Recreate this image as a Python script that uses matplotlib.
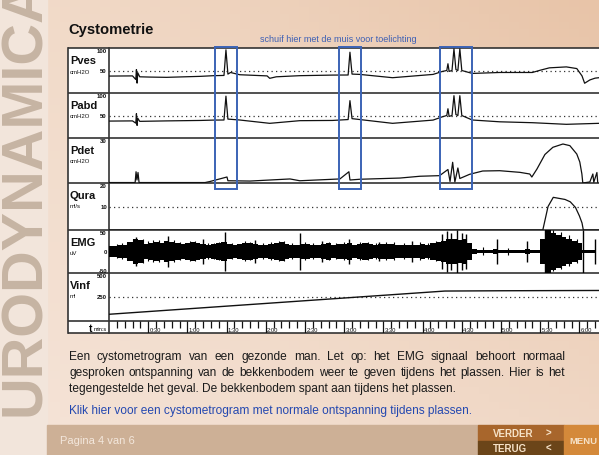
import numpy as np
import matplotlib
matplotlib.use("Agg")
import matplotlib.pyplot as plt
from matplotlib.patches import Rectangle
import matplotlib.transforms as mtransforms

W, H = 599, 456

# ---- traces (time in seconds) ----
pves_t = [0, 18, 20.5, 21, 21.5, 22, 23.5, 31, 44, 70, 80, 88, 89.5, 91, 93, 100, 121, 123, 128,
          146, 171, 183, 184.4, 186, 192, 217, 248, 255, 258.5, 259.4, 260.3, 262.5, 264, 265.5,
          267, 268.5, 270, 278, 299, 324, 330, 337, 350, 358, 362, 364, 368, 372, 375]
pves_v = [37.6, 38, 30, 52, 22, 45, 36, 35.4, 34.8, 37, 38.5, 39, 96, 42, 45.6, 40.6, 38, 32.6, 36,
          38.5, 39.8, 40, 90.6, 42, 41.3, 34, 41.3, 47.8, 50, 65, 48, 50, 98, 52,
          50, 98, 50, 43.5, 45.6, 45.6, 50.6, 55.9, 58, 54.3, 38, 21.7, 29, 33, 34]

pabd_t = [0, 18, 20.5, 21, 21.5, 22, 23.5, 44, 70, 80, 88, 89.5, 91, 100, 123, 146, 171, 183,
          184.4, 186, 192, 217, 248, 255, 258.5, 259.4, 260.3, 262.5, 264, 265.5, 267, 268.5,
          270, 278, 299, 324, 350, 375]
pabd_v = [37.6, 38, 33, 54, 28, 44, 37, 38, 39, 39.8, 40, 93, 42, 40, 32.6, 38.5, 39, 41,
          83, 43, 41, 32.6, 39.8, 47, 50, 65, 48, 50, 94, 52, 50, 94,
          50, 40, 36, 34, 30.4, 32.6]

pdet_t = [0, 20, 20.7, 21.4, 22.2, 23, 73.5, 77.3, 90.3, 91, 108, 138.5, 146, 176.7, 183.6, 184.4,
          192, 222.6, 238, 253, 259.4, 261, 263, 264.7, 267, 268.5, 276, 286, 299, 314.5, 322,
          323.6, 327.5, 333.6, 339.7, 347.4, 352.7, 358, 360.3, 361.9, 362.6, 368, 370.3, 371,
          373.4, 374]
pdet_v = [0.3, 0.3, 7.5, 2, 7, 0.3, 0.3, 1, 4, 1.5, 1.3, 2.7, 1.5, 2.7, 7.5, 2,
          2.5, 3.3, 4.5, 4.9, 9, 1, 13.8, 0.7, 10, 3, 5.8, 8, 8.2, 7.1, 6,
          4, 9.3, 19, 23.8, 26, 24.9, 19.3, 14, 6, 0, 0.7, 6, 0.5,
          7, 0.5]

qura_t = [0, 332, 336, 340, 344, 349, 353, 357, 360, 362, 363, 375]
qura_v = [0, 0, 10, 13.9, 13.5, 13, 12, 9.6, 6, 3, 0, 0]

# EMG envelope (uV), one value per 4 s window
emg_t = list(range(0, 376, 4))
emg_amp = [12, 13, 14, 16, 22, 30, 27, 18, 20, 23, 20, 25, 21, 19, 17, 20, 23, 20, 18, 16,
           17, 19, 21, 17, 15, 18, 20, 19, 17, 16, 16, 18, 20, 21, 18, 16, 15, 17, 17, 15,
           16, 17, 19, 16, 18, 17, 20, 16, 17, 19, 17, 16, 18, 17, 17, 16, 15, 16, 15, 16,
           17, 16, 19, 21, 25, 28, 30, 27, 28, 20, 5, 4, 4, 4, 5, 4, 4, 4, 4, 4,
           5, 4, 4, 30, 50, 44, 38, 33, 29, 25, 20, 4, 4, 4]
# EMG large isolated spikes
spike_t = [21, 45, 72, 89, 112, 146, 163, 184, 207, 232, 255, 259, 262, 266, 270, 273,
           297, 320, 333.6, 362.6, 372]
spike_a = [34, 36, 28, 45, 26, 42, 24, 30, 22, 24, 40, 48, 44, 50, 42, 40,
           28, 25, 50, 50, 28]
# EMG small spikes that make the band ragged
jag_t = [6, 10, 14, 18, 26, 30, 34, 38, 42, 50, 54, 58, 62, 66, 76, 80, 84, 94, 98, 104,
         108, 118, 124, 130, 134, 140, 150, 156, 168, 174, 180, 192, 198, 204, 212, 218,
         226, 238, 244, 250, 286, 305, 340, 346, 352, 358]
jag_a = [18, 19, 20, 28, 30, 24, 26, 27, 25, 26, 22, 20, 24, 25, 20, 20, 22, 20, 18, 24,
         22, 20, 22, 25, 24, 19, 21, 19, 23, 20, 22, 21, 23, 20, 22, 21,
         20, 21, 20, 24, 10, 8, 50, 46, 38, 30]

vinf_t = [0, 257, 300, 375]
vinf_v = [70, 312, 315, 318]

box_t0 = [81, 176, 253]
box_t1 = [98, 193, 278]

time_labels = ["0:30", "1:00", "1:30", "2:00", "2:30", "3:00", "3:30",
               "4:00", "4:30", "5:00", "5:30", "6:00"]

line1 = "Een cystometrogram van een gezonde man. Let op: het EMG signaal behoort normaal"
line2 = "gesproken ontspanning van de bekkenbodem weer te geven tijdens het plassen. Hier is het"
line3 = "tegengestelde het geval. De bekkenbodem spant aan tijdens het plassen."
link = "Klik hier voor een cystometrogram met normale ontspanning tijdens plassen."

plt.rcParams['font.family'] = ['Liberation Sans', 'DejaVu Sans']

fig = plt.figure(figsize=(W / 100, H / 100), dpi=100)

# background axes in pixel coordinates
bg = fig.add_axes([0, 0, 1, 1])
bg.set_xlim(0, W)
bg.set_ylim(H, 0)
bg.set_axis_off()

c_tl = np.array([242, 220, 203]) / 255
c_tr = np.array([232, 196, 168]) / 255
c_bl = np.array([245, 228, 216]) / 255
c_br = np.array([240, 216, 198]) / 255
u = np.linspace(0, 1, 60)[None, :, None]
v = np.linspace(0, 1, 60)[:, None, None]
img = (1 - v) * ((1 - u) * c_tl + u * c_tr) + v * ((1 - u) * c_bl + u * c_br)
bg.imshow(img, extent=[0, W, H, 0], aspect='auto', zorder=0)

# left strip with the vertical word
bg.add_patch(Rectangle((0, 0), 47, H, color='#f2e5db', zorder=1))
bg.text(25, 416, "URODYNAMICA", rotation=90, ha='center', va='bottom',
        fontsize=41.5, fontweight='bold', color='#c6b4a3', zorder=2)

# title and hint
bg.text(68, 30, "Cystometrie", fontsize=10.6, fontweight='bold', color='#111111',
        va='center', ha='left', zorder=3)
bg.text(338, 40, "schuif hier met de muis voor toelichting", fontsize=6.5,
        color='#3c5fb4', va='center', ha='center', zorder=3)

# chart box
bg.add_patch(Rectangle((68, 49), W - 68 + 5, 334 - 49, facecolor='white',
                       edgecolor='none', zorder=1))
border = '#333333'
for yb in [49, 94, 139, 184, 231, 274, 322, 334]:
    bg.plot([68, W + 2], [yb, yb], color=border, lw=1.2, zorder=5, solid_capstyle='butt')
for xb in [68, 109]:
    bg.plot([xb, xb], [49, 334], color=border, lw=1.2, zorder=5)

rows = [
    ("Pves", "cmH2O", 49, 94, (0, 100), [(100, "100", 'top'), (50, "50", 'center')], 50),
    ("Pabd", "cmH2O", 94, 139, (0, 100), [(100, "100", 'top'), (50, "50", 'center')], 50),
    ("Pdet", "cmH2O", 139, 184, (0, 30), [(30, "30", 'top')], None),
    ("Qura", "ml/s", 184, 231, (0, 20), [(20, "20", 'top'), (10, "10", 'center')], 10),
    ("EMG", "uV", 231, 274, (-50, 50), [(50, "50", 'top'), (0, "0", 'center'),
                                         (-50, "-50", 'bottom')], None),
    ("Vinf", "ml", 274, 322, (0, 500), [(500, "500", 'top'), (250, "250", 'center')], 250),
]

axes = {}
for name, unit, top, bot, lims, scale, dotted in rows:
    ax = fig.add_axes([109 / W, 1 - bot / H, (W - 109) / W, (bot - top) / H])
    ax.set_xlim(0, 375)
    ax.set_ylim(*lims)
    ax.set_axis_off()
    ax.patch.set_alpha(0)
    axes[name] = ax
    bg.text(70, top + 12, name, fontsize=8, fontweight='bold', color='#111111',
            va='center', ha='left', zorder=6)
    bg.text(70, top + 23, unit, fontsize=4.3, color='#111111', va='center', ha='left', zorder=6)
    blend = mtransforms.blended_transform_factory(bg.transData, ax.transData)
    for val, lab, va in scale:
        bg.text(107, val, lab, fontsize=4.3, fontweight='bold', color='#111111',
                ha='right', va=va, transform=blend, zorder=6)
    if dotted is not None:
        ax.axhline(dotted, color='#333333', lw=0.9, linestyle=(0, (1, 2.6)))

axes["Pves"].plot(pves_t, pves_v, color='#111111', lw=0.9)
axes["Pabd"].plot(pabd_t, pabd_v, color='#111111', lw=0.9)
axes["Pdet"].plot(pdet_t, pdet_v, color='#111111', lw=0.9)
axes["Qura"].plot(qura_t, qura_v, color='#111111', lw=0.9)
emg_amp = np.array(emg_amp)
axes["EMG"].fill_between(emg_t, -emg_amp, emg_amp, step='mid', color='black', lw=0)
axes["EMG"].vlines(spike_t, -np.array(spike_a), spike_a, color='black', lw=1.0)
axes["EMG"].vlines(jag_t, -np.array(jag_a) * 0.9, jag_a, color='black', lw=0.8)
axes["Vinf"].plot(vinf_t, vinf_v, color='#111111', lw=1.0)

# time row
ax_t = fig.add_axes([109 / W, 1 - 334 / H, (W - 109) / W, 12 / H])
ax_t.set_xlim(0, 375)
ax_t.set_ylim(0, 1)
ax_t.set_axis_off()
ax_t.patch.set_alpha(0)
minor = [s for s in range(6, 376, 6) if s % 30]
major = list(range(30, 361, 30))
ax_t.vlines(minor, 0.4, 1, color='#111111', lw=0.9)
ax_t.vlines(major, 0, 1, color='#111111', lw=0.9)
for s, lab in zip(major, time_labels):
    ax_t.text(s + 1, 0.05, lab, fontsize=4.2, ha='left', va='bottom', color='#111111')
bg.text(92, 329, "t", fontsize=7.5, fontweight='bold', ha='right', va='center', zorder=6)
bg.text(94, 330, "min:s", fontsize=4, ha='left', va='center', zorder=6)

# blue hint boxes
blend_box = mtransforms.blended_transform_factory(axes["Pves"].transData, bg.transData)
for t0, t1 in zip(box_t0, box_t1):
    fig.add_artist(Rectangle((t0, 48), t1 - t0, 190 - 48, fill=False, edgecolor='#3b63b6',
                             lw=1.4, transform=blend_box, zorder=10))

# paragraph, first two lines justified
renderer = fig.canvas.get_renderer()


def justify(text, x0, x1, y, **kw):
    words = text.split()
    items = [bg.text(0, y, w, ha='left', va='center', **kw) for w in words]
    widths = [it.get_window_extent(renderer).width for it in items]
    gap = (x1 - x0 - sum(widths)) / (len(words) - 1)
    x = x0
    for it, wd in zip(items, widths):
        it.set_x(x)
        x += wd + gap


body = dict(fontsize=8.6, color='#1a1a1a', zorder=3)
justify(line1, 69, 565, 357, **body)
justify(line2, 69, 565, 373, **body)
bg.text(69, 389, line3, ha='left', va='center', **body)
bg.text(69, 411, link, ha='left', va='center', fontsize=8.6, color='#2448b0', zorder=3)

# footer bar and buttons
bg.add_patch(Rectangle((47, 426), 478 - 47, 30, color='#cdb096', zorder=2))
bg.text(60, 441, "Pagina 4 van 6", fontsize=8, color='#f3e7dc', ha='left', va='center', zorder=3)
bg.add_patch(Rectangle((478, 426), 86, 16, color='#a8662c', zorder=2))
bg.add_patch(Rectangle((478, 442), 86, 14, color='#6b4519', zorder=2))
bg.add_patch(Rectangle((564, 426), W - 564, 30, color='#d4893a', zorder=2))
btn = dict(fontsize=7, fontweight='bold', color='#f6e2c8', va='center', zorder=3)
bg.text(493, 434, "VERDER", ha='left', **btn)
bg.text(546, 434, ">", ha='left', **btn)
bg.text(493, 449, "TERUG", ha='left', **btn)
bg.text(546, 449, "<", ha='left', **btn)
bg.text(569, 442, "MENU", ha='left', fontsize=6.8, fontweight='bold', color='#f6e2c8',
        va='center', zorder=3)

fig.savefig("out.png", dpi=100)
